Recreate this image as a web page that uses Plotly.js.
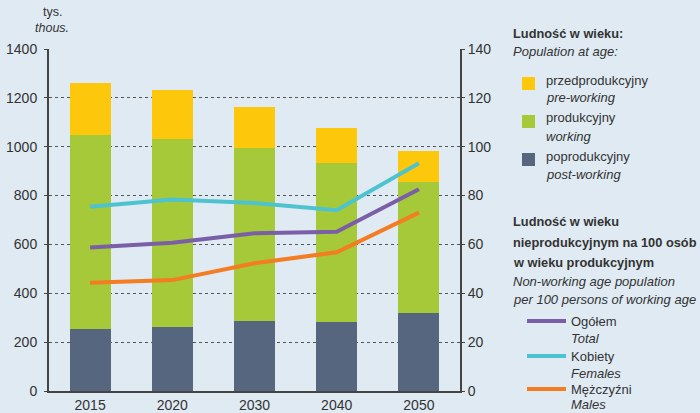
<!DOCTYPE html>
<html><head><meta charset="utf-8">
<script src="https://cdn.plot.ly/plotly-3.0.1.min.js"></script>
<style>html,body{margin:0;padding:0;background:#dfeaf2;}#c{width:700px;height:413px;}</style>
</head><body><div id="c"></div>
<script>
const years = ['2015','2020','2030','2040','2050'];
const postWorking = [252, 263, 286, 281, 318];
const working = [796, 768, 709, 652, 539];
const preWorking = [214, 200, 167, 143, 124];
const ratioTotal = [58.7, 60.7, 64.6, 65.2, 82.6];
const ratioFemales = [75.4, 78.4, 77.0, 74.0, 93.2];
const ratioMales = [44.3, 45.4, 52.3, 56.8, 73.0];

const cYellow = '#fdc70c', cGreen = '#a5c938', cNavy = '#57667f';
const cPurple = '#7a5fa8', cCyan = '#4cc3cf', cOrange = '#f47c22';
const font = 'Liberation Sans, Arial, sans-serif';

const traces = [
  {type:'bar', x:years, y:postWorking, marker:{color:cNavy}, name:'poprodukcyjny', hoverinfo:'y'},
  {type:'bar', x:years, y:working, marker:{color:cGreen}, name:'produkcyjny', hoverinfo:'y'},
  {type:'bar', x:years, y:preWorking, marker:{color:cYellow}, name:'przedprodukcyjny', hoverinfo:'y'},
  {type:'scatter', mode:'lines', x:years, y:ratioFemales, yaxis:'y2', line:{color:cCyan, width:4}, name:'Kobiety'},
  {type:'scatter', mode:'lines', x:years, y:ratioTotal, yaxis:'y2', line:{color:cPurple, width:4}, name:'Ogółem'},
  {type:'scatter', mode:'lines', x:years, y:ratioMales, yaxis:'y2', line:{color:cOrange, width:4}, name:'Mężczyźni'}
];

const L = 49, T = 49, W = 411, H = 342;
const px = v => (v - L) / W;
const py = v => (T + H - v) / H;

const ann = [];
const shapes = [];
function txt(x, y, s, size, opts) {
  ann.push(Object.assign({xref:'paper', yref:'paper', x:px(x), y:py(y), text:s, showarrow:false,
    xanchor:'left', yanchor:'middle', font:{family:font, size:size||13, color:'#333'}}, opts||{}));
}
// axis unit label
txt(52, 12, 'tys.', 12.5, {xanchor:'center'});
txt(52, 28, '<i>thous.</i>', 12.5, {xanchor:'center'});
// legend 1
txt(511, 33, '<b>Ludność w wieku:</b>', 12.8);
txt(511, 51, '<i>Population at age:</i>');
const sq = [[cYellow, 80, 'przedprodukcyjny', 'pre-working'], [cGreen, 118, 'produkcyjny', 'working'], [cNavy, 156, 'poprodukcyjny', 'post-working']];
sq.forEach(([c, y, a, b]) => {
  shapes.push({type:'rect', xref:'paper', yref:'paper', x0:px(522), x1:px(535), y0:py(y+10), y1:py(y-3), fillcolor:c, line:{width:0}});
  txt(544, y, a); txt(544, y+18, '<i>' + b + '</i>');
});
// legend 2
txt(511, 222, '<b>Ludność w wieku</b>', 12.8);
txt(511, 242, '<b>nieprodukcyjnym na 100 osób</b>', 12.8);
txt(511, 262, '<b>w wieku produkcyjnym</b>', 12.8);
txt(511, 281, '<i>Non-working age population</i>');
txt(511, 299, '<i>per 100 persons of working age</i>');
const ln = [[cPurple, 321, 'Ogółem', 'Total'], [cCyan, 356, 'Kobiety', 'Females'], [cOrange, 389, 'Mężczyźni', 'Males']];
ln.forEach(([c, y, a, b]) => {
  shapes.push({type:'line', xref:'paper', yref:'paper', x0:px(527), x1:px(566), y0:py(y), y1:py(y), line:{color:c, width:4}});
  txt(569, y, a); txt(569, Math.min(y+17, 404), '<i>' + b + '</i>');
});

const layout = {
  width:700, height:413,
  margin:{l:L, r:700-L-W, t:T, b:413-T-H, pad:0},
  paper_bgcolor:'#dfeaf2', plot_bgcolor:'rgba(0,0,0,0)',
  barmode:'stack', bargap:0.5,
  showlegend:false,
  font:{family:font, size:14, color:'#333'},
  xaxis:{type:'category', showgrid:false, showline:true, linecolor:'#444', linewidth:2,
    ticks:'', tickfont:{size:14, color:'#333'}, fixedrange:true},
  yaxis:{range:[0,1400], dtick:200, showgrid:true, gridcolor:'#555', griddash:'dot', gridwidth:1,
    showline:true, linecolor:'#444', linewidth:2, ticks:'outside', ticklen:3, tickcolor:'#444',
    zeroline:false, tickfont:{size:14, color:'#333'}, ticklabelstandoff:4},
  yaxis2:{range:[0,140], dtick:20, overlaying:'y', side:'right', showgrid:false,
    showline:true, linecolor:'#444', linewidth:2, ticks:'outside', ticklen:3, tickcolor:'#444',
    zeroline:false, tickfont:{size:14, color:'#333'}},
  annotations:ann, shapes:shapes
};
Plotly.newPlot('c', traces, layout, {displayModeBar:false, staticPlot:true});
</script></body></html>
